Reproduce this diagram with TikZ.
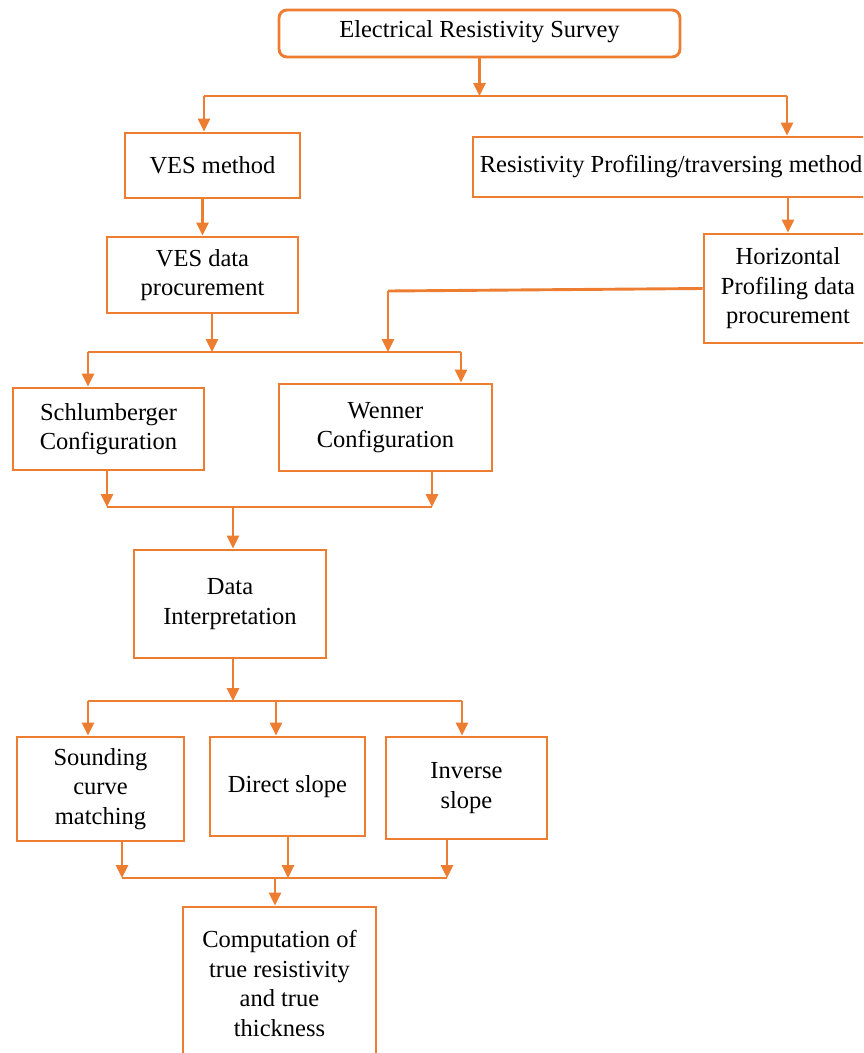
\documentclass[tikz,border=0pt]{standalone}
\usepackage{fontspec}
\setmainfont{Liberation Serif}
\usetikzlibrary{arrows.meta,calc}
\definecolor{orc}{HTML}{ED7D31}
\begin{document}
\begin{tikzpicture}[x=1pt,y=-1pt,
  box/.style={draw=orc, line width=2.9pt, inner sep=0pt, align=center,
    font=\fontsize{24.5}{29.5}\selectfont, text=black},
  ln/.style={draw=orc, line width=2.9pt},
  arr/.style={ln, -{Triangle[length=13pt,width=12pt]}}]
\useasboundingbox (0,0) rectangle (863,1053);
\clip (0,0) rectangle (863,1053);
% boxes
\node[box, rounded corners=8pt, minimum width=401pt, minimum height=47pt] (top) at (479.5,33.5) {\raisebox{9pt}{Electrical Resistivity Survey}};
\node[box, minimum width=175pt, minimum height=65pt] (ves) at (212.5,165.5) {VES method};
\node[box, minimum width=396pt, minimum height=60pt] (rp) at (671,167) {Resistivity Profiling/traversing method};
\node[box, minimum width=191pt, minimum height=76pt] (vesd) at (202.5,275) {VES data\\procurement};
\node[box, minimum width=168pt, minimum height=109pt] (hp) at (788,288.5) {Horizontal\\Profiling data\\procurement};
\node[box, minimum width=191pt, minimum height=82pt] (sch) at (108.5,429) {Schlumberger\\Configuration};
\node[box, minimum width=213pt, minimum height=87pt] (wen) at (385.5,427.5) {Wenner\\Configuration};
\node[box, minimum width=192pt, minimum height=108pt] (di) at (230,604) {Data\\Interpretation};
\node[box, minimum width=167pt, minimum height=104pt] (sc) at (100.5,789) {Sounding\\curve\\matching};
\node[box, minimum width=155pt, minimum height=99pt] (ds) at (287.5,786.5) {Direct slope};
\node[box, minimum width=161pt, minimum height=102pt] (inv) at (466.5,788) {Inverse\\slope};
\node[box, minimum width=193pt, minimum height=153pt] (comp) at (279.5,983.5) {Computation of\\true resistivity\\and true\\thickness};
% junction coordinates
\coordinate (j1) at (479.5,96);
\coordinate (j1l) at (204,96);
\coordinate (j1r) at (787,96);
\coordinate (k) at (388,291);
\coordinate (kb) at (388,352);
\coordinate (a2) at (212,352);
\coordinate (j2l) at (88,352);
\coordinate (j2r) at (461,352);
\coordinate (j3l) at (107,507);
\coordinate (j3r) at (432,507);
\coordinate (j3m) at (233,507);
\coordinate (j4m) at (233,701);
\coordinate (j4l) at (88,701);
\coordinate (j4c) at (276,701);
\coordinate (j4r) at (462,701);
\coordinate (j5l) at (122,878);
\coordinate (j5c) at (288,878);
\coordinate (j5r) at (447,878);
\coordinate (j5m) at (275,878);
% connectors
\draw[arr] (top.south) -- (j1);
\draw[ln] (j1l) -- (j1r);
\draw[arr] (j1l) -- (j1l |- ves.north);
\draw[arr] (j1r) -- (j1r |- rp.north);
\draw[arr] (ves.south -| vesd.north) -- (vesd.north);
\draw[arr] (rp.south -| hp.north) -- (hp.north);
\draw[ln] (hp.west) -- (k);
\draw[arr] (k) -- (kb);
\draw[arr] (vesd.south -| a2) -- (a2);
\draw[ln] (j2l) -- (j2r);
\draw[arr] (j2l) -- (j2l |- sch.north);
\draw[arr] (j2r) -- (j2r |- wen.north);
\draw[arr] (sch.south -| j3l) -- (j3l);
\draw[arr] (wen.south -| j3r) -- (j3r);
\draw[ln] (j3l) -- (j3r);
\draw[arr] (j3m) -- (j3m |- di.north);
\draw[arr] (di.south -| j4m) -- (j4m);
\draw[ln] (j4l) -- (j4r);
\draw[arr] (j4l) -- (j4l |- sc.north);
\draw[arr] (j4c) -- (j4c |- ds.north);
\draw[arr] (j4r) -- (j4r |- inv.north);
\draw[arr] (sc.south -| j5l) -- (j5l);
\draw[arr] (ds.south -| j5c) -- (j5c);
\draw[arr] (inv.south -| j5r) -- (j5r);
\draw[ln] (j5l) -- (j5r);
\draw[arr] (j5m) -- (j5m |- comp.north);
\end{tikzpicture}
\end{document}
